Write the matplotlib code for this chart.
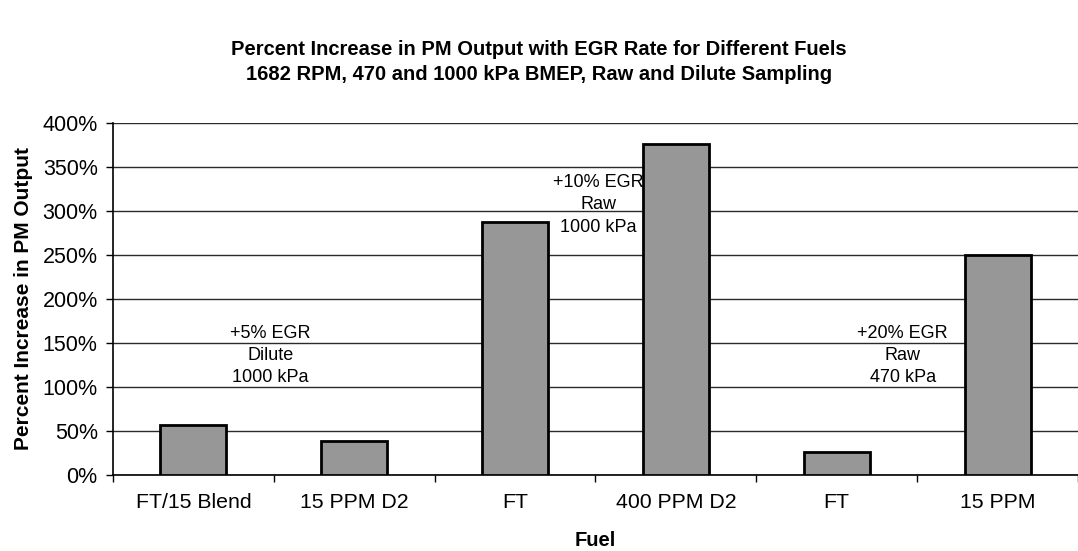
import matplotlib.pyplot as plt
import numpy as np
from matplotlib.ticker import PercentFormatter

plt.rcParams['font.family'] = ['Liberation Sans', 'DejaVu Sans']

fuels = ['FT/15 Blend', '15 PPM D2', 'FT', '400 PPM D2', 'FT', '15 PPM']
increase = [57, 39, 287, 376, 26, 250]  # percent

notes = ['+5% EGR\nDilute\n1000 kPa', '+10% EGR\nRaw\n1000 kPa', '+20% EGR\nRaw\n470 kPa']
note_x = [0.48, 2.52, 4.41]
note_y = [136, 307, 136]

fig = plt.figure(figsize=(10.78, 5.51), dpi=100)
ax = fig.add_axes([0.1048, 0.138, 0.8952, 0.6388])

x = np.arange(len(fuels))
ax.bar(x, increase, width=0.41, color='#979797', edgecolor='black', linewidth=2, zorder=3)

ax.set_xlim(-0.5, 5.46)
ax.set_ylim(0, 400)
ax.set_yticks(np.arange(0, 401, 50))
ax.yaxis.set_major_formatter(PercentFormatter(decimals=0))
ax.grid(axis='y', color='#2a2a2a', linewidth=1, zorder=0)

# ticks at category boundaries, labels at centers
ax.set_xticks(np.arange(-0.5, 5.6, 1))
ax.set_xticklabels([])
ax.set_xticks(x, minor=True)
ax.set_xticklabels(fuels, minor=True)
ax.tick_params(axis='x', which='major', length=5, width=1, direction='out')
ax.tick_params(axis='x', which='minor', length=0, pad=13, labelsize=15.3)
ax.tick_params(axis='y', length=5, width=1, pad=6, labelsize=15.5)

for s in ['top', 'right']:
    ax.spines[s].set_visible(False)
ax.spines['left'].set_linewidth(1.2)
ax.spines['bottom'].set_linewidth(1.2)

ax.set_ylabel('Percent Increase in PM Output', fontsize=15, fontweight='bold', labelpad=7)
ax.set_xlabel('Fuel', fontsize=14.5, fontweight='bold', labelpad=14)

for t, xx, yy in zip(notes, note_x, note_y):
    ax.text(xx, yy, t, ha='center', va='center', fontsize=13, linespacing=1.4, zorder=4)

fig.text(0.5, 0.888, 'Percent Increase in PM Output with EGR Rate for Different Fuels\n'
         '1682 RPM, 470 and 1000 kPa BMEP, Raw and Dilute Sampling',
         ha='center', va='center', fontsize=14.5, fontweight='bold', linespacing=1.38)

fig.savefig('out.png', dpi=100)
